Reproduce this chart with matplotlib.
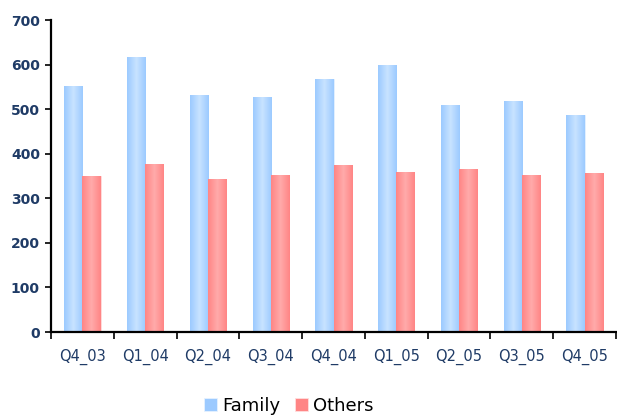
import matplotlib.pyplot as plt
import matplotlib.colors as mcolors
import numpy as np

quarters = ["Q4_03", "Q1_04", "Q2_04", "Q3_04", "Q4_04", "Q1_05", "Q2_05", "Q3_05", "Q4_05"]
family = [553, 616, 531, 527, 567, 598, 509, 518, 486]
others = [351, 378, 343, 352, 374, 360, 365, 352, 356]

label_color = "#1f3b66"
family_edge, family_mid = "#9ccaff", "#c8e3ff"
others_edge, others_mid = "#ff8585", "#ffabab"

fig = plt.figure(figsize=(6.17, 4.17), dpi=100)
ax = fig.add_axes([51 / 617, 1 - 332 / 417, 565 / 617, 312 / 417])

x = np.arange(len(quarters))
w = 0.29
bars_f = ax.bar(x - w / 2, family, w, color=family_edge, edgecolor="#e6f2ff", linewidth=0.6, label="Family")
bars_o = ax.bar(x + w / 2, others, w, color=others_edge, edgecolor="#ffdede", linewidth=0.6, label="Others")


def shade(bars, edge, mid):
    # horizontal gradient: darker at the sides, lighter towards the middle
    cmap = mcolors.LinearSegmentedColormap.from_list("g", [edge, mid, edge])
    grad = np.linspace(0, 1, 64)[None, :]
    for b in bars:
        x0, y0 = b.get_x(), b.get_y()
        im = ax.imshow(grad, cmap=cmap, aspect="auto", interpolation="bilinear",
                       extent=(x0, x0 + b.get_width(), y0, y0 + b.get_height()), zorder=b.get_zorder())
        im.set_clip_path(b)


shade(bars_f, family_edge, family_mid)
shade(bars_o, others_edge, others_mid)

ax.set_xlim(-0.5, len(quarters) - 0.5)
ax.set_ylim(0, 700)
ax.set_yticks(range(0, 701, 100))
ax.set_xticks(x)
ax.set_xticklabels(quarters)
ax.set_xticks(np.arange(-0.5, len(quarters), 1), minor=True)

for side in ["top", "right"]:
    ax.spines[side].set_visible(False)
for side in ["left", "bottom"]:
    ax.spines[side].set_linewidth(1.6)
    ax.spines[side].set_color("black")

ax.tick_params(axis="y", direction="out", length=4, width=1.2, pad=4,
               labelsize=10, labelcolor=label_color)
for t in ax.get_yticklabels():
    t.set_fontweight("bold")
ax.tick_params(axis="x", which="major", length=0, pad=12, labelsize=10.5, labelcolor=label_color)
ax.tick_params(axis="x", which="minor", direction="out", length=5, width=1.2)

fig.legend(handles=[bars_f, bars_o], labels=["Family", "Others"], loc="center",
           bbox_to_anchor=(289 / 617, 1 - 406 / 417), ncol=2, frameon=False,
           fontsize=13, handlelength=0.7, handleheight=0.7, handletextpad=0.3,
           columnspacing=0.8)

fig.savefig("out.png", dpi=100)
